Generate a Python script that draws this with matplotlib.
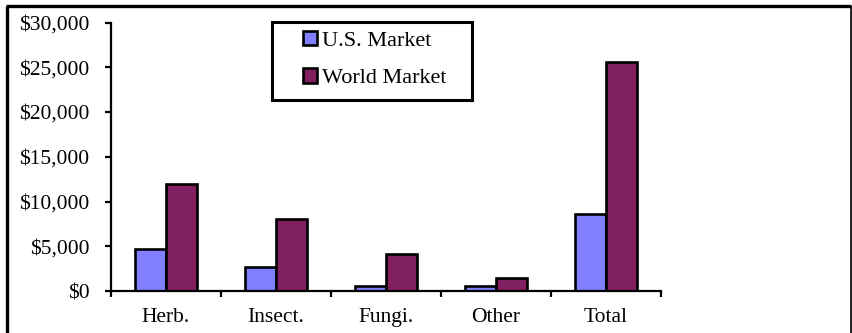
import matplotlib
matplotlib.use("Agg")
import matplotlib.pyplot as plt
import numpy as np
from matplotlib.patches import Rectangle
from matplotlib.lines import Line2D
from matplotlib.ticker import FuncFormatter, FixedLocator

categories = ["Herb.", "Insect.", "Fungi.", "Other", "Total"]
us_market = [4700, 2700, 600, 600, 8600]
world_market = [11900, 8000, 4100, 1500, 25600]
y_ticks = [0, 5000, 10000, 15000, 20000, 25000, 30000]
series_names = ["U.S. Market", "World Market"]

US_COLOR = "#8080FF"
WORLD_COLOR = "#802060"

plt.rcParams["font.family"] = ["Liberation Serif", "DejaVu Serif"]

W, H = 853, 333
fig = plt.figure(figsize=(W / 100, H / 100), dpi=100)

left, right, top, bottom = 111, 661, 22.5, 291
ax = fig.add_axes([left / W, 1 - bottom / H, (right - left) / W, (bottom - top) / H])

x = np.arange(len(categories))
bw = 0.285
ax.bar(x - bw / 2, us_market, width=bw, color=US_COLOR, edgecolor="black",
       linewidth=1.9, label=series_names[0], zorder=3)
ax.bar(x + bw / 2, world_market, width=bw, color=WORLD_COLOR, edgecolor="black",
       linewidth=1.9, label=series_names[1], zorder=3)

ax.set_xlim(-0.5, len(categories) - 0.5)
ax.set_ylim(0, 30000)
ax.set_yticks(y_ticks)
ax.yaxis.set_major_formatter(FuncFormatter(lambda v, p: f"${v:,.0f}"))
ax.set_xticks(x)
ax.set_xticklabels(categories)
ax.xaxis.set_minor_locator(FixedLocator(np.arange(-0.5, len(categories), 1.0)))

ax.tick_params(axis="x", which="major", length=0, pad=12, labelsize=15.5)
ax.tick_params(axis="x", which="minor", length=4.5, width=1.6, direction="out")
ax.tick_params(axis="y", which="major", length=4.5, width=1.6, direction="out",
               pad=11, labelsize=15.5)

for s in ["top", "right"]:
    ax.spines[s].set_visible(False)
for s in ["left", "bottom"]:
    ax.spines[s].set_linewidth(1.6)
    ax.spines[s].set_zorder(4)

# legend (frameless) with a separate box
handles, labels = ax.get_legend_handles_labels()
leg = fig.legend(handles, labels, loc="center",
                 bbox_to_anchor=(375 / W, 1 - 59.5 / H), bbox_transform=fig.transFigure,
                 frameon=False, fontsize=16, handlelength=0.64, handleheight=0.64,
                 handletextpad=0.22, labelspacing=0.78, borderpad=0)
fig.add_artist(Rectangle((272 / W, 1 - 100 / H), 200 / W, 78 / H,
                         transform=fig.transFigure, fill=False,
                         edgecolor="black", linewidth=2.2))

# outer frame
fig.add_artist(Line2D([7.5 / W, 7.5 / W], [0, 1 - 5.8 / H], transform=fig.transFigure,
                      color="black", linewidth=2.4, solid_capstyle="butt"))
fig.add_artist(Line2D([6.3 / W, 851.5 / W], [1 - 5.8 / H, 1 - 5.8 / H],
                      transform=fig.transFigure, color="black", linewidth=2.4,
                      solid_capstyle="butt"))
fig.add_artist(Line2D([851.2 / W, 851.2 / W], [0, 1 - 5.8 / H], transform=fig.transFigure,
                      color="black", linewidth=1.2, solid_capstyle="butt"))

fig.savefig("out.png", dpi=100)
